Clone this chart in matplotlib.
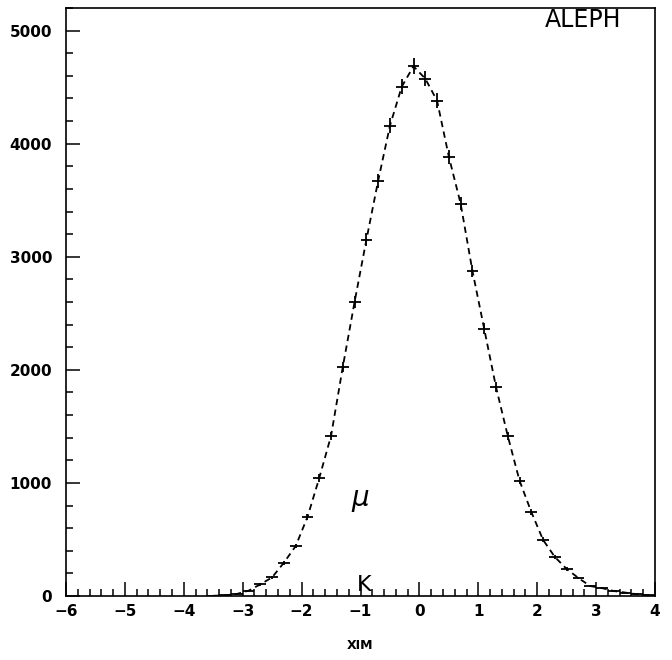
import numpy as np
import matplotlib.pyplot as plt
from matplotlib.ticker import MultipleLocator

# bin centres (width 0.2) and counts
xim = [-3.5, -3.3, -3.1, -2.9, -2.7, -2.5, -2.3, -2.1, -1.9, -1.7, -1.5, -1.3,
       -1.1, -0.9, -0.7, -0.5, -0.3, -0.1, 0.1, 0.3, 0.5, 0.7, 0.9, 1.1,
       1.3, 1.5, 1.7, 1.9, 2.1, 2.3, 2.5, 2.7, 2.9, 3.1, 3.3, 3.5, 3.7, 3.9]
counts = [2, 6, 18, 47, 103, 165, 295, 442, 699, 1044, 1416, 2027,
          2602, 3150, 3673, 4159, 4504, 4685, 4575, 4380, 3885, 3470, 2876, 2363,
          1850, 1416, 1020, 743, 496, 345, 239, 159, 88, 70, 44, 30, 15, 5]

x = np.array(xim)
y = np.array(counts, dtype=float)

fig = plt.figure(figsize=(6.72, 6.6), dpi=100)
ax = fig.add_axes([66 / 672, 64 / 660, 589 / 672, 588 / 660])

ax.plot(x, y, ls=(0, (3.5, 2.5)), color='black', lw=1.3)
ax.errorbar(x, y, xerr=0.1, yerr=np.sqrt(y), fmt='none', ecolor='black',
            elinewidth=1.3, capsize=0)

ax.set_xlim(-6, 4)
ax.set_ylim(0, 5200)
ax.xaxis.set_major_locator(MultipleLocator(1))
ax.xaxis.set_minor_locator(MultipleLocator(0.2))
ax.yaxis.set_major_locator(MultipleLocator(1000))
ax.yaxis.set_minor_locator(MultipleLocator(200))
ax.tick_params(which='both', direction='in', top=False, right=False, width=1.1)
ax.tick_params(which='major', length=10, labelsize=11)
ax.tick_params(axis='y', pad=10)
ax.tick_params(axis='x', pad=6)
ax.tick_params(which='minor', length=5)
for lab in ax.get_xticklabels() + ax.get_yticklabels():
    lab.set_fontweight('semibold')
for s in ax.spines.values():
    s.set_linewidth(1.2)

ax.set_xlabel('XIM', fontsize=9, fontweight='bold', labelpad=14)

ax.text(2.78, 5090, 'ALEPH', fontsize=17, ha='center', va='center')
ax.text(-1.0, 850, r'$\mu$', fontsize=20, ha='center', va='center')
ax.text(-0.93, 95, 'K', fontsize=16, ha='center', va='center')

fig.savefig('out.png', dpi=100)
